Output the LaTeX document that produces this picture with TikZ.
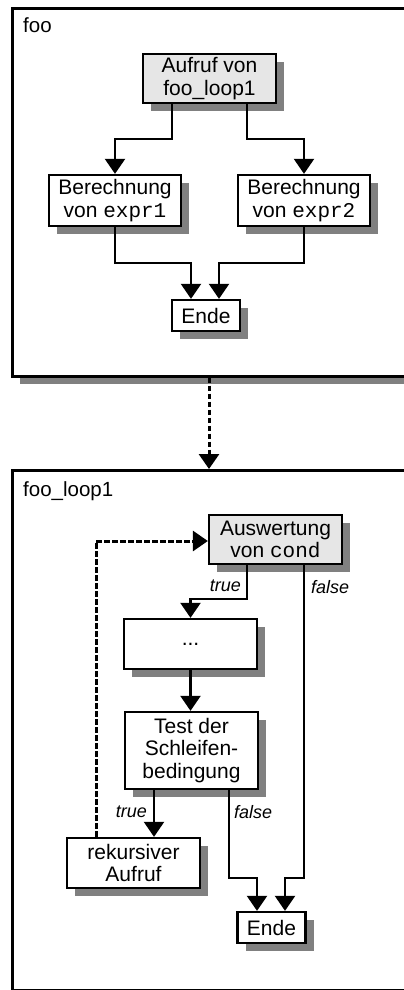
\documentclass[tikz,border=0pt]{standalone}
\usepackage{fontspec}
\setmainfont{Liberation Sans}
\setmonofont{Liberation Mono}
\usetikzlibrary{arrows.meta,shadows}

\definecolor{boxgray}{HTML}{E6E6E6}
\definecolor{shadowgray}{HTML}{808080}

\tikzset{
  shade box/.style={drop shadow={shadow xshift=8pt,shadow yshift=-8pt,fill=shadowgray,opacity=1}},
  frame/.style={draw,line width=2.6pt,fill=white,shade box,anchor=north west,inner sep=0pt},
  stepbox/.style={draw,line width=2.3pt,fill=white,shade box,align=center,inner sep=0pt,
    font=\fontsize{21pt}{22.5pt}\selectfont},
  callbox/.style={stepbox,fill=boxgray},
  flow/.style={line width=2.2pt,-{Triangle[width=20pt,length=15pt]}},
  loopflow/.style={flow,line width=3pt,dash pattern=on 5.5pt off 2.5pt},
  title/.style={anchor=base west,inner sep=0pt,font=\fontsize{20.5pt}{22pt}\selectfont},
  branch/.style={inner sep=0pt,font=\fontsize{18pt}{20pt}\selectfont\itshape},
}

\begin{document}
\begin{tikzpicture}[x=1pt,y=-1pt]
\useasboundingbox (0,0) rectangle (404,990);
\clip (0,0) rectangle (404,990);

% outer frames
\node[frame,minimum width=419pt,minimum height=368pt] (foo) at (11,7) {};
\node[title] (footitle) at (23,33) {foo};
\node[frame,minimum width=419pt,minimum height=520pt] (loop) at (11,469) {};
\node[title] (looptitle) at (23,496) {foo\_loop1};

% function foo
\node[callbox,minimum width=133pt,minimum height=49pt] (call) at (209.5,78.5) {Aufruf von\\foo\_loop1};
\node[stepbox,minimum width=132pt,minimum height=51pt] (expr1) at (115,200.5) {Berechnung\\von \texttt{expr1}};
\node[stepbox,minimum width=132pt,minimum height=51pt] (expr2) at (304,200.5) {Berechnung\\von \texttt{expr2}};
\node[stepbox,minimum width=68pt,minimum height=31pt] (end1) at (206,315.5) {Ende};

\draw[flow] ([xshift=-37.5pt]call.south) -- ++(0,35) -| (expr1.north);
\draw[flow] ([xshift=37.5pt]call.south) -- ++(0,35) -| (expr2.north);
\draw[flow] (expr1.south) -- ++(0,36) -| ([xshift=-15pt]end1.north);
\draw[flow] (expr2.south) -- ++(0,36) -| ([xshift=13pt]end1.north);

% call of foo_loop1
\draw[loopflow] ([xshift=198pt]foo.south west) -- ([xshift=198pt]loop.north west);

% function foo_loop1
\node[callbox,minimum width=133pt,minimum height=49pt] (cond) at (275.5,539.5) {Auswertung\\von \texttt{cond}};
\node[stepbox,minimum width=133pt,minimum height=50pt] (body) at (190.5,644) {...};
\node[stepbox,minimum width=133pt,minimum height=77pt] (test) at (191.5,750.5) {Test der\\Schleifen-\\bedingung};
\node[stepbox,minimum width=133pt,minimum height=50pt] (rec) at (133.5,863) {rekursiver\\Aufruf};
\node[stepbox,minimum width=68pt,minimum height=31pt] (end2) at (271.5,927.5) {Ende};

\draw[flow] ([xshift=-28.5pt]cond.south) -- ++(0,34) -| (body.north);
\draw[flow] ([xshift=28.5pt]cond.south) -- ++(0,313) -| ([xshift=13.5pt]end2.north);
\draw[flow] (body.south) -- (body.south |- test.north);
\draw[flow] ([xshift=-37.5pt]test.south) -- ([xshift=-37.5pt]test.south |- rec.north);
\draw[flow] ([xshift=37.5pt]test.south) -- ++(0,88) -| ([xshift=-14.5pt]end2.north);
\draw[loopflow] ([xshift=-37.5pt]rec.north) |- ([yshift=-1.5pt]cond.west);

% branch labels
\node[branch,anchor=east] (t1) at (241,586) {true};
\node[branch,anchor=west] (f1) at (311,587) {false};
\node[branch,anchor=east] (t2) at (147,812) {true};
\node[branch,anchor=west] (f2) at (234,812) {false};
\end{tikzpicture}
\end{document}
